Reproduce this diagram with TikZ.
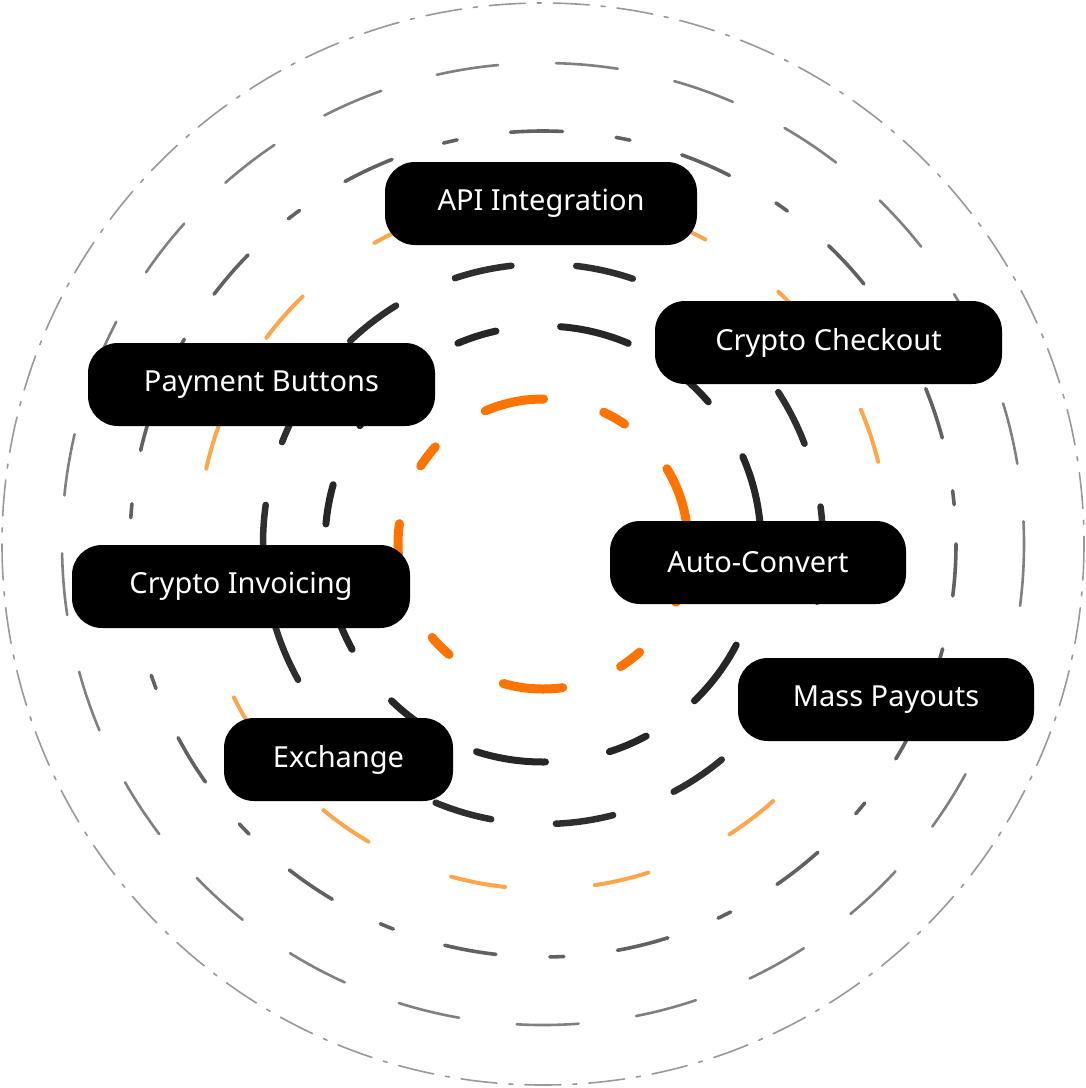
\documentclass[tikz,border=0pt]{standalone}
\usepackage{fontspec}
\setmainfont{Noto Sans}
\begin{document}
\begin{tikzpicture}[x=1pt,y=-1pt,
 pill/.style={fill=black,rounded corners=30pt,draw=none},
 lbl/.style={text=white,font=\fontsize{29}{34}\selectfont\bfseries},
 ring/.style={line cap=round}]
\useasboundingbox (0,0) rectangle (1086,1088);
\coordinate (c) at (543,544);
\draw[ring,color=black!40,line width=1.6pt,dash pattern=on 36pt off 12pt on 4pt off 12pt] (c) circle (541);
\draw[ring,color=black!50,line width=2.6pt,dash pattern=on 62pt off 58pt] (c) circle (481);
\draw[ring,color=black!62,line width=3.6pt,dash pattern=on 52pt off 54pt on 14pt off 54pt] (c) circle (413);
\draw[ring,color=orange!70!white,line width=4pt,dash pattern=on 55pt off 90pt] (c) circle (345);
\draw[ring,color=black!82,line width=6.5pt,dash pattern=on 58pt off 65pt] (c) circle (280);
\draw[ring,color=black!85,line width=7pt,dash pattern=on 40pt off 65pt on 70pt off 60pt] (c) circle (218);
\draw[ring,color=orange!90!red,line width=9pt,dash pattern=on 60pt off 62pt on 24pt off 62pt] (c) circle (145);
\foreach \n/\a/\b/\c/\d/\t in {api/385/162/697/245/API Integration,
 cc/655/301/1002/384/Crypto Checkout,
 pb/88/343/435/426/Payment Buttons,
 ci/72/545/410/628/Crypto Invoicing,
 ac/610/521/906/604/Auto-Convert,
 mp/738/658/1034/741/Mass Payouts,
 ex/224/718/453/801/Exchange}{
 \draw[pill] (\a,\b) rectangle (\c,\d);
 \node[lbl] (\n) at ({(\a+\c)/2},{(\b+\d)/2}) {\t};
}
\end{tikzpicture}
\end{document}
